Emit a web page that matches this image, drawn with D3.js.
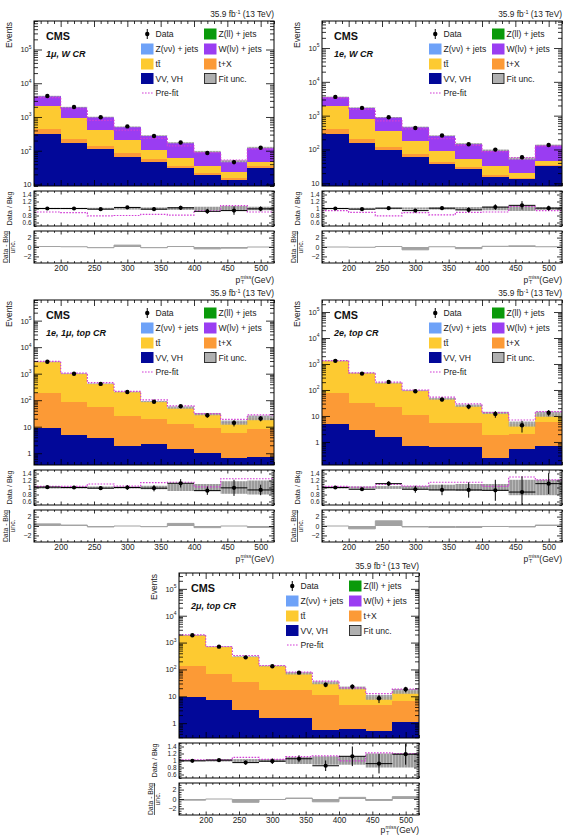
<!DOCTYPE html>
<html><head><meta charset="utf-8">
<script src="https://cdn.jsdelivr.net/npm/d3@7"></script>
<style>body{margin:0;background:#fff}svg{display:block;font-family:"Liberation Sans",Arial,Helvetica,sans-serif}</style>
</head><body><svg id="c" width="570" height="835"></svg>
<script>
// ---------- shared axis data ----------
const binEdges = [160,200,240,280,320,360,400,440,480,520];
const xTickValues = [200,250,300,350,400,450,500];
const ratioTicks = [0.6,0.8,1,1.2,1.4];
const pullTicks = [-2,0,2];
const procKeys = ["vv","tX","tt","W","Zvv","Zll"];
const procColors = {vv:"#020899", tX:"#fc9a36", tt:"#fdca31", W:"#9a3df2", Zvv:"#6ea2f8", Zll:"#0a9a0a"};

// ---------- 1mu, W CR ----------
const mu1W_vv  = [310,166,113,66,45,30,19,14,31];
const mu1W_tX  = [137,63,28,18,10,6,3,1.5,4];
const mu1W_tt  = [1690,700,274,120,50,23,14,7.5,10.5];
const mu1W_W   = [1995,1015,580,303,173,112,57,25.5,77];
const mu1W_Zvv = [18,9,4,2,1.2,0.7,0.4,0.3,0.6];
const mu1W_Zll = [20,7,1,1,0.8,0.6,0.6,0.2,0.9];
const mu1W_data   = [4180,1970,985,525,274,176,86,46,123];
const mu1W_prefit = [3750,1725,790,408,232,140,87,53,112];
const mu1W_unc    = [0.02,0.02,0.02,0.03,0.03,0.04,0.05,0.07,0.05];
const mu1W_ratio  = [1.0,1.0,0.98,1.03,0.98,1.02,0.92,0.94,0.99];
const mu1W_ratioErr = [0.015,0.022,0.03,0.04,0.05,0.06,0.07,0.12,0.07];
const mu1W_prefitR = [0.90,0.88,0.79,0.80,0.83,0.81,0.93,1.08,0.90];
const mu1W_pull   = [0.1,0.05,-0.15,0.4,-0.15,0.1,-0.4,-0.25,0.0];

// ---------- 1e, W CR ----------
const e1W_vv  = [293,155,96,59,37,26,15,13,33];
const e1W_tX  = [107,53,22,14,7,5,2,1,2];
const e1W_tt  = [1520,607,222,104,43,22,16,6,10];
const e1W_W   = [1640,905,544,279,166,94,61,33,88];
const e1W_Zvv = [12,6,4,2,1.2,0.6,0.6,0.5,0.5];
const e1W_Zll = [8,4,2,2,0.8,0.4,0.4,0.5,0.5];
const e1W_data   = [3580,1695,899,432,258,142,99,59,135];
const e1W_prefit = [3365,1540,703,405,209,132,86,57,126];
const e1W_unc    = [0.02,0.02,0.02,0.03,0.03,0.04,0.05,0.07,0.04];
const e1W_ratio  = [1.0,0.98,1.01,0.94,1.01,0.96,1.04,1.09,1.01];
const e1W_ratioErr = [0.015,0.022,0.03,0.045,0.055,0.07,0.08,0.12,0.07];
const e1W_prefitR = [0.94,0.89,0.79,0.88,0.82,0.89,0.90,1.06,0.94];
const e1W_pull   = [0,-0.05,0.1,-0.6,0.05,-0.35,0.15,0.25,0.05];

// ---------- 1e, 1mu, top CR ----------
const emuT_vv  = [8.7,4.9,3.7,1.9,2.3,1.45,1.06,0.67,0.75];
const emuT_tX  = [186,84,52,24,17.7,11.2,7.8,4.9,7.4];
const emuT_tt  = [2580,900,360,177,68,40,21,8.8,13.5];
const emuT_W   = [15,6,3,1.5,0.6,0.2,0.1,0.1,0.2];
const emuT_Zvv = [2,1,0.5,0.3,0.1,0.05,0.02,0.01,0.05];
const emuT_Zll = [8,4,0.8,0.3,0.3,0.1,0.02,0.02,0.1];
const emuT_data   = [2830,1000,412,205,87,59,27,14,20.5];
const emuT_prefit = [2900,1040,460,215,102,61,31,19,28];
const emuT_unc    = [0.03,0.03,0.03,0.03,0.05,0.1,0.1,0.18,0.2];
const emuT_ratio  = [1.01,1.0,0.98,1.0,0.98,1.12,0.91,0.99,0.93];
const emuT_ratioErr = [0.02,0.03,0.05,0.07,0.09,0.12,0.12,0.23,0.15];
const emuT_prefitR = [1.03,1.03,1.10,1.04,1.14,1.15,1.02,1.25,1.25];
const emuT_pull   = [0.45,0.2,-0.2,0.0,-0.15,0.55,-0.35,0.0,-0.3];

// ---------- 2e, top CR ----------
const e2T_vv  = [5.1,2.9,1.5,0.7,0.66,0.62,0.24,0.54,0.68];
const e2T_tX  = [69,30,20.5,10.3,4.6,4.7,1.66,1.46,5.1];
const e2T_tt  = [1235,413,161,82,40.3,19.5,11.1,2.9,6.1];
const e2T_W   = [8,3,1.5,0.7,0.3,0.1,0.1,0.05,0.05];
const e2T_Zvv = [0.5,0.2,0.1,0.05,0.04,0.03,0.03,0.02,0.02];
const e2T_Zll = [2.4,0.9,0.4,0.25,0.1,0.05,0.07,0.03,0.05];
const e2T_data   = [1320,428,205,89,43,23,12,4.4,13.3];
const e2T_prefit = [1360,455,202,98,53,29,13.6,7,14.6];
const e2T_unc    = [0.03,0.03,0.04,0.04,0.08,0.1,0.1,0.22,0.22];
const e2T_ratio  = [1.0,0.95,1.11,0.95,0.93,0.93,0.92,0.87,1.11];
const e2T_ratioErr = [0.03,0.05,0.07,0.1,0.15,0.22,0.3,0.45,0.3];
const e2T_prefitR = [1.03,1.01,1.09,1.04,1.15,1.15,1.03,1.30,1.22];
const e2T_pull   = [0,-0.6,1.1,-0.2,-0.3,-0.3,-0.1,-0.2,0.2];

// ---------- 2mu, top CR ----------
const mu2T_vv  = [9.8,7.4,3.2,1.6,1.58,0.57,0.6,0.53,1.15];
const mu2T_tX  = [124,60.6,30.8,15.4,15.4,10.4,4.3,4.4,5.45];
const mu2T_tt  = [1751,626,263,115.5,54.3,20.6,15.4,4.2,8.7];
const mu2T_W   = [10,4,2,1,0.5,0.3,0.15,0.1,0.15];
const mu2T_Zvv = [0.5,0.2,0.1,0.05,0.03,0.02,0.01,0.01,0.01];
const mu2T_Zll = [4.7,1.8,0.9,0.45,0.19,0.11,0.14,0.06,0.04];
const mu2T_data   = [1880,707,282,131,76,27,23,8.5,18.3];
const mu2T_prefit = [1950,715,330,140,80,37,20.5,12.5,18.6];
const mu2T_unc    = [0.02,0.03,0.04,0.04,0.1,0.12,0.12,0.2,0.2];
const mu2T_ratio  = [0.99,1.01,0.94,0.98,1.05,0.85,1.12,0.91,1.18];
const mu2T_ratioErr = [0.025,0.035,0.06,0.08,0.1,0.15,0.28,0.28,0.3];
const mu2T_prefitR = [1.02,1.02,1.09,1.03,1.11,1.13,0.99,1.22,1.20];
const mu2T_pull   = [-0.25,0,-0.7,-0.1,0.2,-0.6,0.35,-0.3,0.5];

const regions = [
  {key:"mu1W", label:"1\u03bc, W CR", left:34, top:21, yDomain:[9,7e5],
   procs:{vv:mu1W_vv,tX:mu1W_tX,tt:mu1W_tt,W:mu1W_W,Zvv:mu1W_Zvv,Zll:mu1W_Zll},
   data:mu1W_data, prefit:mu1W_prefit, unc:mu1W_unc, ratio:mu1W_ratio, ratioErr:mu1W_ratioErr, prefitR:mu1W_prefitR, pull:mu1W_pull},
  {key:"e1W", label:"1e, W CR", left:322, top:21, yDomain:[8.3,6.3e5],
   procs:{vv:e1W_vv,tX:e1W_tX,tt:e1W_tt,W:e1W_W,Zvv:e1W_Zvv,Zll:e1W_Zll},
   data:e1W_data, prefit:e1W_prefit, unc:e1W_unc, ratio:e1W_ratio, ratioErr:e1W_ratioErr, prefitR:e1W_prefitR, pull:e1W_pull},
  {key:"emuT", label:"1e, 1\u03bc, top CR", left:34, top:300, yDomain:[0.36,6e5],
   procs:{vv:emuT_vv,tX:emuT_tX,tt:emuT_tt,W:emuT_W,Zvv:emuT_Zvv,Zll:emuT_Zll},
   data:emuT_data, prefit:emuT_prefit, unc:emuT_unc, ratio:emuT_ratio, ratioErr:emuT_ratioErr, prefitR:emuT_prefitR, pull:emuT_pull},
  {key:"e2T", label:"2e, top CR", left:322, top:300, yDomain:[0.13,2.9e5],
   procs:{vv:e2T_vv,tX:e2T_tX,tt:e2T_tt,W:e2T_W,Zvv:e2T_Zvv,Zll:e2T_Zll},
   data:e2T_data, prefit:e2T_prefit, unc:e2T_unc, ratio:e2T_ratio, ratioErr:e2T_ratioErr, prefitR:e2T_prefitR, pull:e2T_pull},
  {key:"mu2T", label:"2\u03bc, top CR", left:179, top:573, yDomain:[0.28,3.9e5],
   procs:{vv:mu2T_vv,tX:mu2T_tX,tt:mu2T_tt,W:mu2T_W,Zvv:mu2T_Zvv,Zll:mu2T_Zll},
   data:mu2T_data, prefit:mu2T_prefit, unc:mu2T_unc, ratio:mu2T_ratio, ratioErr:mu2T_ratioErr, prefitR:mu2T_prefitR, pull:mu2T_pull}
];

const svg = d3.select("#c");
const defs = svg.append("defs");
const pat = defs.append("pattern").attr("id","hatch").attr("patternUnits","userSpaceOnUse").attr("width",3).attr("height",3);
pat.append("rect").attr("width",3).attr("height",3).attr("fill","#b8b8b8");
pat.append("line").attr("x1",1).attr("y1",0).attr("x2",1).attr("y2",3).attr("stroke","#7d7d7d").attr("stroke-width",1);
const PREFIT = "#d23fd6";

function ticks(g, scale, orient, pos, majors, minors, majLen, minLen, fmt, fs) {
  const fn = {left:d3.axisLeft, right:d3.axisRight, top:d3.axisTop, bottom:d3.axisBottom}[orient];
  const vert = orient === "left" || orient === "right";
  const mk = (vals, len, f) => {
    const a = fn(scale).tickValues(vals).tickSize(-len).tickPadding(2.5).tickFormat(f || (() => ""));
    const gg = g.append("g").attr("transform", vert ? `translate(${pos},0)` : `translate(0,${pos})`).call(a);
    gg.attr("font-family", null).attr("font-size", fs || 7.5);
    gg.select(".domain").remove();
    gg.selectAll("line").attr("stroke", "#000").attr("stroke-width", 0.8);
    gg.selectAll("text").attr("fill", "#222");
    return gg;
  };
  if (minors && minors.length) mk(minors, minLen);
  return mk(majors, majLen, fmt);
}

function drawRegion(r) {
  const g = svg.append("g");
  const L = r.left, R = L + 240, T = r.top;
  const mB = T + 165, rT = mB + 5, rB = rT + 35, pT = rB + 5, pB = pT + 32;
  const x = d3.scaleLinear().domain([binEdges[0], binEdges[binEdges.length-1]]).range([L, R]);
  const y = d3.scaleLog().domain(r.yDomain).range([mB, T]);
  const yr = d3.scaleLinear().domain([0.5, 1.5]).range([rB, rT]);
  const yp = d3.scaleLinear().domain([-3.4, 3.4]).range([pB, pT]);
  const id = r.key;
  [["m",T,mB],["r",rT,rB],["p",pT,pB]].forEach(([s,a,b]) =>
    defs.append("clipPath").attr("id", id+s).append("rect").attr("x",L).attr("y",a).attr("width",R-L).attr("height",b-a));

  const bins = d3.range(binEdges.length-1).map(i => {
    const o = {i, x0: binEdges[i], x1: binEdges[i+1], xc: (binEdges[i]+binEdges[i+1])/2};
    procKeys.forEach(k => o[k] = r.procs[k][i]);
    return o;
  });
  const series = d3.stack().keys(procKeys)(bins);
  const tot = series[series.length-1].map(d => d[1]);
  const cl = v => Math.max(v, 1e-4);

  // ---- main panel ----
  const gm = g.append("g").attr("clip-path", `url(#${id}m)`);
  series.forEach(s => {
    gm.append("g").attr("fill", procColors[s.key]).attr("shape-rendering","crispEdges")
      .selectAll("rect").data(s).join("rect")
      .attr("x", d => x(d.data.x0)).attr("width", d => x(d.data.x1) - x(d.data.x0))
      .attr("y", d => y(cl(d[1]))).attr("height", d => Math.max(0, y(cl(d[0])) - y(cl(d[1]))));
  });
  gm.append("g").selectAll("rect").data(bins).join("rect")
    .attr("x", d => x(d.x0)).attr("width", d => x(d.x1) - x(d.x0))
    .attr("y", d => y(tot[d.i]*(1+r.unc[d.i]))).attr("height", d => Math.max(0.8, y(tot[d.i]*(1-r.unc[d.i])) - y(tot[d.i]*(1+r.unc[d.i]))))
    .attr("fill", "url(#hatch)").attr("opacity", 0.9);
  const stepPts = vals => bins.flatMap(b => [[b.x0, vals[b.i]], [b.x1, vals[b.i]]]);
  gm.append("path").attr("d", d3.line().x(d => x(d[0])).y(d => y(d[1]))(stepPts(r.prefit)))
    .attr("fill","none").attr("stroke",PREFIT).attr("stroke-width",1.2).attr("stroke-dasharray","1.6,1.4");
  const gd = gm.append("g");
  gd.selectAll("line").data(bins).join("line")
    .attr("x1", d => x(d.xc)).attr("x2", d => x(d.xc))
    .attr("y1", d => y(r.data[d.i] + Math.sqrt(r.data[d.i]))).attr("y2", d => y(Math.max(r.data[d.i] - Math.sqrt(r.data[d.i]), 1e-3)))
    .attr("stroke","#000").attr("stroke-width",1);
  gd.selectAll("circle").data(bins).join("circle")
    .attr("cx", d => x(d.xc)).attr("cy", d => y(r.data[d.i])).attr("r", 2.2).attr("fill","#000");

  // ---- ratio panel ----
  const gr = g.append("g").attr("clip-path", `url(#${id}r)`);
  gr.append("g").selectAll("rect").data(bins).join("rect")
    .attr("x", d => x(d.x0)).attr("width", d => x(d.x1) - x(d.x0))
    .attr("y", d => yr(1 + r.unc[d.i])).attr("height", d => yr(1 - r.unc[d.i]) - yr(1 + r.unc[d.i]))
    .attr("fill","url(#hatch)");
  gr.append("path").attr("d", d3.line().x(d => x(d[0])).y(d => yr(d[1]))(stepPts(r.prefitR)))
    .attr("fill","none").attr("stroke",PREFIT).attr("stroke-width",1.2).attr("stroke-dasharray","1.6,1.4");
  const grd = gr.append("g").attr("stroke","#000").attr("stroke-width",1);
  grd.selectAll("line.h").data(bins).join("line").attr("class","h")
    .attr("x1", d => x(d.x0)).attr("x2", d => x(d.x1)).attr("y1", d => yr(r.ratio[d.i])).attr("y2", d => yr(r.ratio[d.i]));
  grd.selectAll("line.v").data(bins).join("line").attr("class","v")
    .attr("x1", d => x(d.xc)).attr("x2", d => x(d.xc))
    .attr("y1", d => yr(r.ratio[d.i] + r.ratioErr[d.i])).attr("y2", d => yr(r.ratio[d.i] - r.ratioErr[d.i]));
  gr.append("g").selectAll("circle").data(bins).join("circle")
    .attr("cx", d => x(d.xc)).attr("cy", d => yr(r.ratio[d.i])).attr("r", 2.1).attr("fill","#000");

  // ---- pull panel ----
  const gp = g.append("g").attr("clip-path", `url(#${id}p)`);
  gp.append("g").selectAll("rect").data(bins).join("rect")
    .attr("x", d => x(d.x0)).attr("width", d => x(d.x1) - x(d.x0))
    .attr("y", d => yp(Math.max(0, r.pull[d.i]))).attr("height", d => Math.abs(yp(0) - yp(r.pull[d.i])))
    .attr("fill","#a2a2a2");
  gp.append("path").attr("d", d3.line().x(d => x(d[0])).y(d => yp(d[1]))(stepPts(r.pull)))
    .attr("fill","none").attr("stroke","#a2a2a2").attr("stroke-width",1);

  // ---- frames and axes ----
  [[T,mB],[rT,rB],[pT,pB]].forEach(([a,b]) =>
    g.append("rect").attr("x",L).attr("y",a).attr("width",R-L).attr("height",b-a)
      .attr("fill","none").attr("stroke","#000").attr("stroke-width",1));
  const xMinor = d3.range(160, 521, 10).filter(v => v % 50 !== 0);
  const [lo, hi] = r.yDomain;
  const e0 = Math.floor(Math.log10(lo)), e1 = Math.ceil(Math.log10(hi));
  const yMaj = [], yMin = [];
  for (let e = e0; e <= e1; e++) for (let k = 1; k < 10; k++) {
    const v = k * Math.pow(10, e);
    if (v < lo || v > hi) continue;
    (k === 1 ? yMaj : yMin).push(v);
  }
  ticks(g, x, "bottom", mB, xTickValues, xMinor, 6, 3);
  ticks(g, x, "top", T, xTickValues, xMinor, 6, 3);
  const yl = ticks(g, y, "left", L, yMaj, yMin, 8, 4, d => d, 7.5);
  yl.selectAll("text").each(function(d) {
    const t = d3.select(this); t.text(null);
    const e = Math.round(Math.log10(d));
    if (e === 0) t.text("1");
    else if (e === 1) t.text("10");
    else { t.append("tspan").text("10"); t.append("tspan").attr("dy", -3.5).attr("font-size", 5).text(e); }
  });
  ticks(g, y, "right", R, yMaj, yMin, 8, 4);

  const rMinor = d3.range(0.5, 1.501, 0.05).map(v => +v.toFixed(2)).filter(v => !ratioTicks.includes(v));
  ticks(g, x, "bottom", rB, xTickValues, xMinor, 3.5, 1.8);
  ticks(g, x, "top", rT, xTickValues, xMinor, 3.5, 1.8);
  ticks(g, yr, "left", L, ratioTicks, rMinor, 5, 2.5, d => String(d), 6.4);
  ticks(g, yr, "right", R, ratioTicks, rMinor, 5, 2.5);

  const pMinor = d3.range(-3, 3.01, 0.5).filter(v => !pullTicks.includes(v));
  ticks(g, x, "bottom", pB, xTickValues, xMinor, 3.5, 1.8, d => String(d), 8.2);
  ticks(g, x, "top", pT, xTickValues, xMinor, 3.5, 1.8);
  ticks(g, yp, "left", L, pullTicks, pMinor, 5, 2.5, d => d < 0 ? "\u2212" + Math.abs(d) : String(d), 7);
  ticks(g, yp, "right", R, pullTicks, pMinor, 5, 2.5);

  // ---- texts ----
  const lumi = g.append("text").attr("x", R).attr("y", T - 4).attr("text-anchor","end").attr("font-size", 8.3).attr("fill","#222");
  lumi.append("tspan").text("35.9 fb");
  lumi.append("tspan").attr("dy", -3.5).attr("font-size", 5.5).text("-1");
  lumi.append("tspan").attr("dy", 3.5).text("  (13 TeV)");

  g.append("text").attr("transform", `translate(${L-22},${T+1}) rotate(-90)`).attr("text-anchor","end")
    .attr("font-size", 8.5).attr("fill","#222").text("Events");
  g.append("text").attr("transform", `translate(${L-22},${(rT+rB)/2}) rotate(-90)`).attr("text-anchor","middle")
    .attr("font-size", 7.3).attr("fill","#222").text("Data / Bkg");
  const pc = (pT + pB) / 2;
  g.append("text").attr("transform", `translate(${L-26},${pc}) rotate(-90)`).attr("text-anchor","middle")
    .attr("font-size", 6.8).attr("fill","#222").text("Data - Bkg");
  g.append("line").attr("x1", L-24.5).attr("x2", L-24.5).attr("y1", pc - 16).attr("y2", pc + 16).attr("stroke","#222").attr("stroke-width",0.7);
  g.append("text").attr("transform", `translate(${L-19},${pc}) rotate(-90)`).attr("text-anchor","middle")
    .attr("font-size", 6.8).attr("fill","#222").text("unc.");

  // x-axis label  p_T^miss (GeV)
  const xlY = Math.min(pB + 19.5, 833);
  const gev = g.append("text").attr("x", R).attr("y", xlY).attr("text-anchor","end").attr("font-size", 8.5).attr("fill","#222").text(" (GeV)");
  const gw = gev.node().getComputedTextLength();
  const miss = g.append("text").attr("x", R - gw).attr("y", xlY - 3.6).attr("text-anchor","end").attr("font-size", 5.3).attr("fill","#222").text("miss");
  const mw = miss.node().getComputedTextLength();
  g.append("text").attr("x", R - gw - mw + 0.5).attr("y", xlY + 1.8).attr("font-size", 5.3).attr("fill","#222").text("T");
  g.append("text").attr("x", R - gw - mw - 0.3).attr("y", xlY).attr("text-anchor","end").attr("font-size", 8.5).attr("fill","#222").text("p");

  g.append("text").attr("x", L + 12).attr("y", T + 19).attr("font-size", 10.8).attr("font-weight","bold").attr("fill","#111").text("CMS");
  g.append("text").attr("x", L + 12).attr("y", T + 36).attr("font-size", 9).attr("font-weight","bold").attr("font-style","italic").attr("fill","#111").text(r.label);

  // ---- legend ----
  const rows = [13, 28, 43, 57.5, 72].map(v => T + v);
  const c1 = L + 107, c2 = L + 170, sw = 12.5, sh = 11;
  const leg = g.append("g").attr("font-size", 8.6).attr("fill","#222");
  const entries = [
    {col:c1, row:0, type:"data", text:"Data"},
    {col:c2, row:0, type:"box", color:procColors.Zll, text:"Z(ll) + jets"},
    {col:c1, row:1, type:"box", color:procColors.Zvv, text:"Z(\u03bd\u03bd) + jets"},
    {col:c2, row:1, type:"box", color:procColors.W, text:"W(l\u03bd) + jets"},
    {col:c1, row:2, type:"box", color:procColors.tt, text:"t\u0074\u0304"},
    {col:c2, row:2, type:"box", color:procColors.tX, text:"t+X"},
    {col:c1, row:3, type:"box", color:procColors.vv, text:"VV, VH"},
    {col:c2, row:3, type:"unc", text:"Fit unc."},
    {col:c1, row:4, type:"line", text:"Pre-fit"}
  ];
  entries.forEach(en => {
    const cy = rows[en.row];
    if (en.type === "box") leg.append("rect").attr("x", en.col).attr("y", cy - sh/2).attr("width", sw).attr("height", sh).attr("fill", en.color);
    else if (en.type === "unc") leg.append("rect").attr("x", en.col + 0.5).attr("y", cy - sh/2 + 0.5).attr("width", sw - 1).attr("height", sh - 1).attr("fill", "#b0b0b0").attr("stroke","#222").attr("stroke-width",0.9);
    else if (en.type === "line") leg.append("line").attr("x1", en.col + 1).attr("x2", en.col + sw).attr("y1", cy).attr("y2", cy).attr("stroke", PREFIT).attr("stroke-width",1.2).attr("stroke-dasharray","1.6,1.4");
    else {
      leg.append("line").attr("x1", en.col + sw/2).attr("x2", en.col + sw/2).attr("y1", cy - 5).attr("y2", cy + 5).attr("stroke","#000").attr("stroke-width",1);
      leg.append("circle").attr("cx", en.col + sw/2).attr("cy", cy).attr("r", 2.2).attr("fill","#000");
    }
    leg.append("text").attr("x", en.col + sw + 2).attr("y", cy + 3.1).text(en.text);
  });
}

regions.forEach(drawRegion);
</script></body></html>
